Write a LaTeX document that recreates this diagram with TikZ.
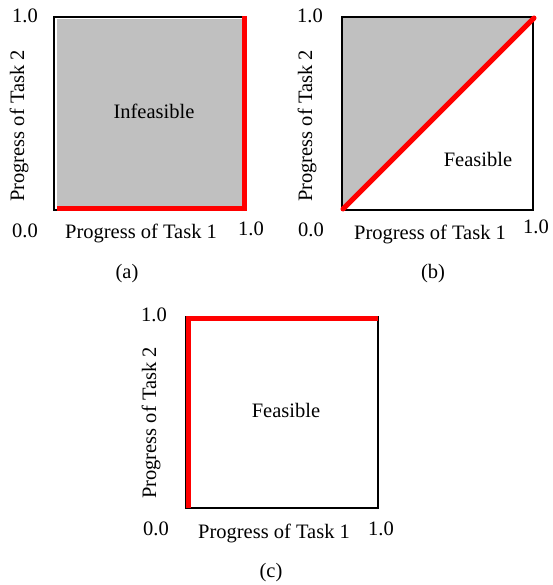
\documentclass[tikz,border=0pt]{standalone}
\usepackage{fontspec}
\setmainfont{Liberation Serif}
\definecolor{regiongray}{RGB}{192,192,192}
\definecolor{limitred}{RGB}{255,0,0}
\begin{document}
\begin{tikzpicture}[x=1pt,y=-1pt,
  lbl/.style={font=\fontsize{20.5}{24}\selectfont, inner sep=0pt, anchor=base},
  ylbl/.style={lbl, rotate=90},
  frame/.style={draw=black, line width=2pt},
  limit/.style={draw=limitred, line width=5pt},
  region/.style={fill=regiongray}]
\useasboundingbox (0,0) rectangle (552,585);

% ---------- (a) ----------
\fill[region] (57,19) rectangle (243,207);
\draw[frame] (54,17) rectangle (246,210);
\draw[limit, line join=miter] (57,208.5) -- (244.5,208.5) -- (244.5,16);
\node[lbl] (a1y) at (25,23) {1.0};
\node[lbl] (a0) at (25,237) {0.0};
\node[lbl] (ax) at (141,238) {Progress of Task 1};
\node[lbl] (a1x) at (251,235) {1.0};
\node[ylbl] (ay) at (24,126) {Progress of Task 2};
\node[lbl] (ain) at (154,119) {Infeasible};
\node[lbl] (acap) at (127,278) {(a)};

% ---------- (b) ----------
\fill[region] (342,17) -- (533,17) -- (342,210) -- cycle;
\draw[frame] (342,17) rectangle (533,210);
\draw[limit, line cap=round] (343,209) -- (534,18);
\node[lbl] (b1y) at (310,23) {1.0};
\node[lbl] (b0) at (311,236) {0.0};
\node[lbl] (bx) at (430,239) {Progress of Task 1};
\node[lbl] (b1x) at (536,233) {1.0};
\node[ylbl] (by) at (312,126) {Progress of Task 2};
\node[lbl] (bfe) at (478,167) {Feasible};
\node[lbl] (bcap) at (433,278) {(b)};

% ---------- (c) ----------
\draw[frame] (186,317) rectangle (378,508);
\draw[limit, line join=miter] (188.5,508) -- (188.5,318) -- (378,318);
\node[lbl] (c1y) at (154,321) {1.0};
\node[lbl] (c0) at (156,535) {0.0};
\node[lbl] (cx) at (274,538) {Progress of Task 1};
\node[lbl] (c1x) at (381,535) {1.0};
\node[ylbl] (cy) at (156,423) {Progress of Task 2};
\node[lbl] (cfe) at (286,417) {Feasible};
\node[lbl] (ccap) at (271,577) {(c)};
\end{tikzpicture}
\end{document}
